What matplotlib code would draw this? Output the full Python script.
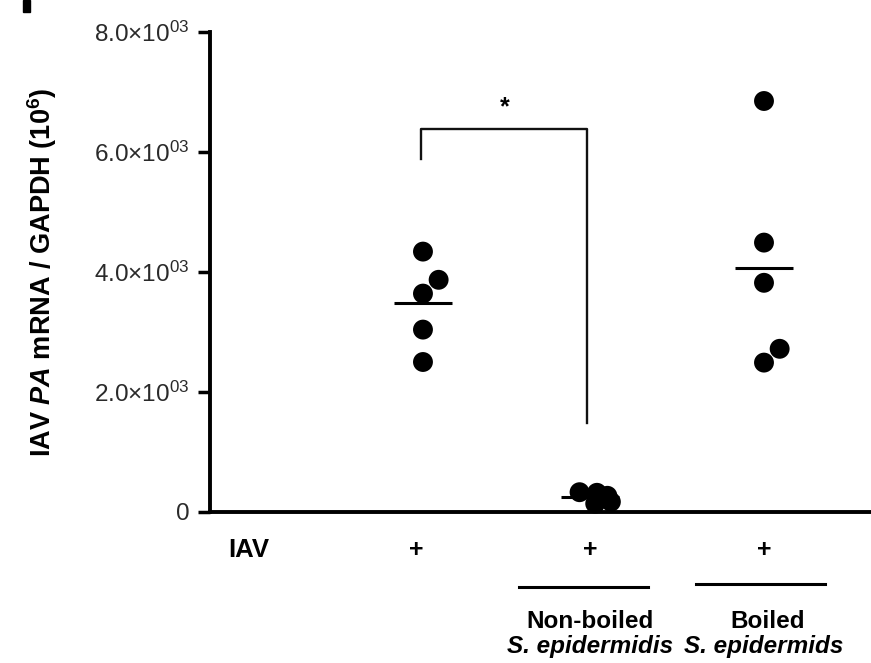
import numpy as np
import matplotlib
matplotlib.use("Agg")
import matplotlib.pyplot as plt
from matplotlib.patches import Rectangle

plt.rcParams['font.family'] = ['Liberation Sans', 'DejaVu Sans']
plt.rcParams['mathtext.fontset'] = 'custom'
plt.rcParams['mathtext.rm'] = 'Liberation Sans'
plt.rcParams['mathtext.it'] = 'Liberation Sans:italic:bold'
plt.rcParams['mathtext.bf'] = 'Liberation Sans:bold'

# IAV PA mRNA / GAPDH per sample
iav_only = [4340, 3870, 3640, 3040, 2500]
non_boiled = [330, 320, 270, 170, 140]
boiled = [6850, 4490, 3820, 2720, 2490]

group_x = [1.04, 2.0, 3.0]
jitter = [
    [0.0, 0.09, 0.0, 0.0, 0.0],
    [-0.06, 0.04, 0.10, 0.12, 0.03],
    [0.0, 0.0, 0.0, 0.09, 0.0],
]

yticks = [0, 2000, 4000, 6000, 8000]
ytick_labels = ["0", r"2.0×10$^{\mathrm{03}}$", r"4.0×10$^{\mathrm{03}}$",
                r"6.0×10$^{\mathrm{03}}$", r"8.0×10$^{\mathrm{03}}$"]

sig_star = "*"
sig_left, sig_right = 1.03, 1.985
sig_top, sig_left_bottom, sig_right_bottom = 6390, 5880, 1490

fig = plt.figure(figsize=(8.71, 6.63), dpi=100)
ax = fig.add_axes([210 / 871, 1 - 512 / 663, 661 / 871, 480 / 663])

for gx, vals, jit in zip(group_x, [iav_only, non_boiled, boiled], jitter):
    xs = gx + np.array(jit)
    ax.scatter(xs, vals, s=205, color='black', edgecolors='none', zorder=3, clip_on=False)
    m = np.mean(vals)
    ax.plot([gx - 0.165, gx + 0.165], [m, m], color='black', lw=2.2, zorder=4,
            solid_capstyle='butt', clip_on=False)

# significance bracket
ax.plot([sig_left, sig_left, sig_right, sig_right],
        [sig_left_bottom, sig_top, sig_top, sig_right_bottom],
        color='#111111', lw=1.7, clip_on=False)
ax.text((sig_left + sig_right) / 2, 6750, sig_star, ha='center', va='center',
        fontsize=18, fontweight='bold')

ax.set_xlim(-0.184, 3.615)
ax.set_ylim(0, 8000)
ax.set_yticks(yticks)
ax.set_yticklabels(ytick_labels, fontsize=17.5, color='#2a2a2a')
ax.tick_params(axis='y', length=9, width=2.5, pad=6)
ax.tick_params(axis='x', bottom=False, labelbottom=False)
for side in ['top', 'right']:
    ax.spines[side].set_visible(False)
for side in ['left', 'bottom']:
    ax.spines[side].set_linewidth(2.8)

ax.set_ylabel(r"IAV $\mathit{PA}$ mRNA / GAPDH (10$^{\mathbf{6}}$)", fontsize=19.5,
              fontweight='bold')
ax.yaxis.set_label_coords(-0.229, 0.5)

# treatment rows under the axis
xt = ax.get_xaxis_transform()
ax.text(0.059, -0.079, "IAV", transform=ax.transAxes, ha='center', va='center',
        fontsize=18.5, fontweight='bold')
for x in [1, 2, 3]:
    ax.text(x, -0.079, "+", transform=xt, ha='center', va='center', fontsize=18,
            fontweight='bold')

ax.plot([1.592, 2.333], [-0.156, -0.156], transform=xt, color='black', lw=2.2,
        clip_on=False)
ax.plot([2.609, 3.351], [-0.150, -0.150], transform=xt, color='black', lw=2.2,
        clip_on=False)

ax.text(2.0, -0.229, "Non-boiled", transform=xt, ha='center', va='center',
        fontsize=17.5, fontweight='bold')
ax.text(2.0, -0.281, "S. epidermidis", transform=xt, ha='center', va='center',
        fontsize=17.5, fontweight='bold', style='italic')
ax.text(3.02, -0.229, "Boiled", transform=xt, ha='center', va='center',
        fontsize=17.5, fontweight='bold')
ax.text(3.0, -0.281, "S. epidermids", transform=xt, ha='center', va='center',
        fontsize=17.5, fontweight='bold', style='italic')

# edge of the panel letter
fig.patches.append(Rectangle((23 / 871, 1 - 12 / 663), 7 / 871, 12 / 663,
                             transform=fig.transFigure, color='black'))

fig.savefig("out.png", dpi=100)
